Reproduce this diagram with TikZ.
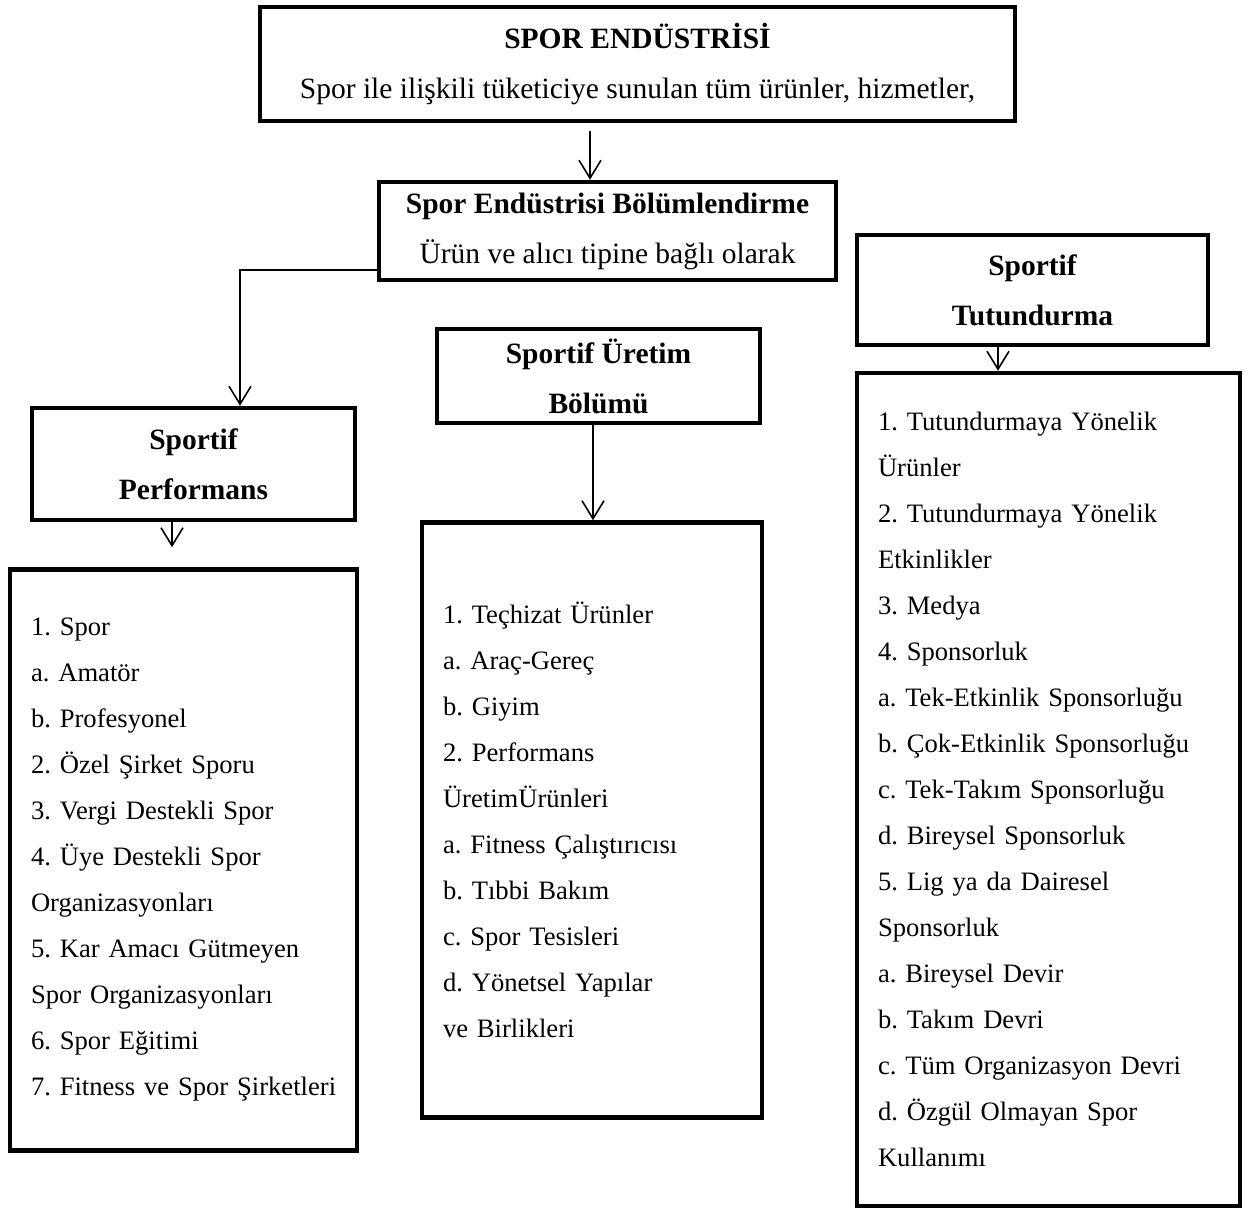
\documentclass[tikz,border=0pt]{standalone}
\usepackage{fontspec}
\setmainfont{Liberation Serif}
\usetikzlibrary{arrows.meta,positioning}

\begin{document}
\frenchspacing
\begin{tikzpicture}[x=1pt, y=-1pt,
  box/.style  = {rectangle, draw, line width=4.5pt, inner sep=0pt,
                 align=center, font=\fontsize{29.5}{50}\selectfont},
  head/.style = {box, font=\fontsize{29.5}{50}\selectfont\bfseries},
  list/.style = {box, align=left, inner xsep=21pt,
                 font=\fontsize{26.6}{46}\selectfont},
  arr/.style  = {-{Straight Barb[length=18pt,width=22pt]}, line width=1.6pt}
]
\useasboundingbox (0,0) rectangle (1249,1212);

% ,  Top of the hierarchy ,
\node[box, minimum width=755pt, minimum height=114pt] (spor) at (637.5,64)
      {{\bfseries SPOR ENDÜSTRİSİ}\\ Spor ile ilişkili tüketiciye sunulan tüm ürünler, hizmetler,};
\node[box, minimum width=457pt, minimum height=98pt] (bolum) at (607.5,231)
      {{\bfseries Spor Endüstrisi Bölümlendirme}\\ Ürün ve alıcı tipine bağlı olarak};

% ,  Three segments ,
\node[head, minimum width=323pt, minimum height=112pt] (perf) at (193.5,464)
      {Sportif\\ Performans};
\node[head, minimum width=323pt, minimum height=94pt]  (uret) at (598.5,376)
      {Sportif Üretim\\ Bölümü};
\node[head, minimum width=351pt, minimum height=110pt] (tutun) at (1032.5,290)
      {Sportif\\ Tutundurma};

% ,  Segment contents ,
\node[list, text width=305pt, minimum height=581pt] (perflist) at (183.5,860)
      {1. Spor\\ a. Amatör\\ b. Profesyonel\\ 2. Özel Şirket Sporu\\
       3. Vergi Destekli Spor\\ 4. Üye Destekli Spor\\ Organizasyonları\\
       5. Kar Amacı Gütmeyen\\ Spor Organizasyonları\\ 6. Spor Eğitimi\\
       \mbox{7. Fitness ve Spor Şirketleri}};
\node[list, text width=298pt, minimum height=595pt] (uretlist) at (592,820)
      {1. Teçhizat Ürünler\\ a. Araç-Gereç\\ b. Giyim\\ 2. Performans\\
       ÜretimÜrünleri\\ a. Fitness Çalıştırıcısı\\ b. Tıbbi Bakım\\
       c. Spor Tesisleri\\ d. Yönetsel Yapılar\\ ve Birlikleri};
\node[list, text width=341pt, minimum height=833pt] (tutunlist) at (1048.5,789.5)
      {1. Tutundurmaya Yönelik\\ Ürünler\\ 2. Tutundurmaya Yönelik\\ Etkinlikler\\
       3. Medya\\ 4. Sponsorluk\\ a. Tek-Etkinlik Sponsorluğu\\
       b. Çok-Etkinlik Sponsorluğu\\ c. Tek-Takım Sponsorluğu\\
       d. Bireysel Sponsorluk\\ 5. Lig ya da Dairesel\\ Sponsorluk\\
       a. Bireysel Devir\\ b. Takım Devri\\ c. Tüm Organizasyon Devri\\
       d. Özgül Olmayan Spor\\ Kullanımı};

% ,  Arrow columns ,
\coordinate (sporarr)  at (590,0);
\coordinate (elbow)    at (240,270);
\coordinate (perfarr)  at (172,0);
\coordinate (uretarr)  at (593,0);
\coordinate (tutunarr) at (998,0);

% ,  Arrows ,
\draw[arr, shorten <=8pt] (spor.south -| sporarr) -- (bolum.north -| sporarr);
\draw[arr] (elbow -| bolum.west) -- (elbow) -- (elbow |- perf.north);
\draw[arr, shorten >=20pt] (perf.south -| perfarr) -- (perflist.north -| perfarr);
\draw[arr] (uret.south -| uretarr) -- (uretlist.north -| uretarr);
\draw[arr] (tutun.south -| tutunarr) -- (tutunlist.north -| tutunarr);

\end{tikzpicture}
\end{document}
